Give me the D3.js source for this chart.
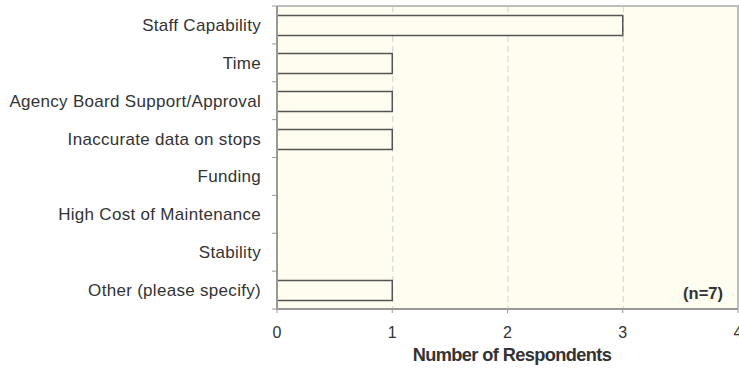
<!DOCTYPE html>
<html><head><meta charset="utf-8">
<script src="https://cdn.jsdelivr.net/npm/d3@7"></script>
<style>body{margin:0;background:#fff}svg{display:block}text{font-family:"Liberation Sans",Arial,sans-serif}</style>
</head><body><svg id="c" width="739" height="369"></svg>
<script>
const categories = ["Staff Capability","Time","Agency Board Support/Approval","Inaccurate data on stops","Funding","High Cost of Maintenance","Stability","Other (please specify)"];
const values = [3,1,1,1,0,0,0,1];
const xTicks = [0,1,2,3,4];
const note = "(n=7)";
const xTitle = "Number of Respondents";

const svg = d3.select("#c");
const m = {l:277, r:738, t:6, b:309};
const x = d3.scaleLinear().domain([0,4]).range([m.l, m.r]);
const y = d3.scaleBand().domain(categories).range([m.t, m.b]).paddingInner(0.47).paddingOuter(0.235);
const yb = d3.scaleBand().domain(categories).range([m.t, m.b]);

svg.append("rect").attr("x",m.l).attr("y",m.t).attr("width",m.r-m.l).attr("height",m.b-m.t).attr("fill","#fefdef");

svg.append("g").selectAll("line").data(xTicks.slice(1,-1)).join("line")
  .attr("x1",d=>x(d)+0.5).attr("x2",d=>x(d)+0.5).attr("y1",m.t).attr("y2",m.b)
  .attr("stroke","#d0d0d0").attr("stroke-dasharray","6,4");

svg.append("path").attr("d",`M${m.l},${m.t}H${m.r}V${m.b}`).attr("fill","none").attr("stroke","#bdbdbd").attr("stroke-width",2);

svg.append("g").selectAll("rect").data(values.map((v,i)=>({v,c:categories[i]})).filter(d=>d.v>0)).join("rect")
  .attr("x",x(0)).attr("y",d=>Math.round(y(d.c))+0.5).attr("width",d=>x(d.v)-x(0)).attr("height",Math.round(y.bandwidth()))
  .attr("fill","#fefdef").attr("stroke","#555").attr("stroke-width",1.5);

const gy = svg.append("g");
gy.append("line").attr("x1",m.l).attr("x2",m.l).attr("y1",m.t).attr("y2",m.b).attr("stroke","#999").attr("stroke-width",2);
const bounds = categories.map(c=>yb(c)).concat([m.b]);
gy.selectAll("line.t").data(bounds).join("line").attr("class","t")
  .attr("x1",m.l-5).attr("x2",m.l).attr("y1",d=>d).attr("y2",d=>d).attr("stroke","#999");
gy.selectAll("text").data(categories).join("text")
  .attr("x",m.l-16).attr("y",d=>yb(d)+yb.bandwidth()/2).attr("dy","0.35em")
  .attr("text-anchor","end").attr("font-size",17).attr("letter-spacing",0.3).attr("fill","#333").text(d=>d);

const gx = svg.append("g");
gx.append("line").attr("x1",m.l).attr("x2",m.r).attr("y1",m.b).attr("y2",m.b).attr("stroke","#999").attr("stroke-width",2);
gx.selectAll("line.t").data(xTicks).join("line").attr("class","t")
  .attr("x1",d=>x(d)).attr("x2",d=>x(d)).attr("y1",m.b).attr("y2",m.b+4).attr("stroke","#999");
gx.selectAll("text").data(xTicks).join("text")
  .attr("x",d=>x(d)).attr("y",m.b+29).attr("text-anchor","middle").attr("font-size",16).attr("fill","#333").text(d=>d);

svg.append("text").attr("x",512).attr("y",361).attr("text-anchor","middle")
  .attr("font-size",18.2).attr("font-weight","bold").attr("letter-spacing","-0.6").attr("fill","#333").text(xTitle);
svg.append("text").attr("x",723).attr("y",299).attr("text-anchor","end")
  .attr("font-size",16.5).attr("font-weight","bold").attr("fill","#333").text(note);
</script></body></html>
